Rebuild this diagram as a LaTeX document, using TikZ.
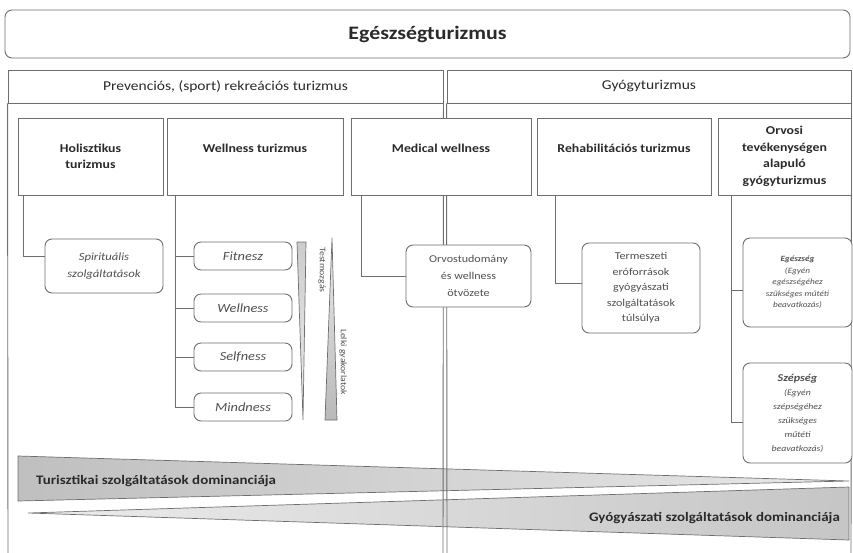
\documentclass[tikz,border=0pt]{standalone}
\usepackage{fontspec}
\setmainfont[FakeStretch=1.15]{Carlito}
\definecolor{linec}{HTML}{6E6E6E}
\definecolor{txt}{HTML}{2A2A2A}
\definecolor{soft}{HTML}{505050}
\begin{document}
\begin{tikzpicture}[x=1pt,y=-1pt,
  ln/.style={draw=linec,line width=0.9pt},
  titlebox/.style={ln,rounded corners=7pt,fill=white,minimum width=845pt,minimum height=48pt,inner sep=0pt,font=\bfseries\fontsize{19}{22}\selectfont,text=txt},
  headcell/.style={ln,fill=white,inner sep=0pt,minimum height=33pt,font=\fontsize{13.5}{15}\selectfont,text=txt},
  colbox/.style={ln,fill=white,inner sep=0pt,align=center,minimum height=77pt,font=\bfseries\fontsize{12}{16.5}\selectfont,text=txt},
  subbox/.style={ln,fill=white,rounded corners=7pt,inner sep=0pt,align=center,text=soft},
  wsub/.style={subbox,minimum width=98pt,minimum height=28pt,font=\itshape\fontsize{12.5}{14}\selectfont},
  conn/.style={ln},
  wedge/.style={draw=linec,line width=0.7pt},
  rotlab/.style={rotate=-90,inner sep=0pt,text=soft,font=\fontsize{8.5}{9}\selectfont},
  domtxt/.style={inner sep=0pt,text=txt,font=\bfseries\fontsize{13}{15}\selectfont}
]
\useasboundingbox (0,0) rectangle (853,552);

% bottom wedges
\shade[wedge,left color=gray!50,right color=gray!18] (18,456) -- (849,481) -- (18,501) -- cycle;
\shade[wedge,left color=gray!15,right color=gray!45] (28,513) -- (849,487) -- (849,540) -- cycle;

% title
\node[titlebox] (title) at (427.5,34) {Egészségturizmus};

% frames
\node[headcell,minimum width=435pt] (prevh) at (225.5,86.5) {Prevenciós, (sport) rekreációs turizmus};
\draw[ln] (prevh.south west) -- (8,560) -- (443,560) -- (prevh.south east);
\node[headcell,minimum width=404pt] (gyogyh) at (649,86.5) {Gyógyturizmus};
\draw[ln] (gyogyh.south west) -- (447,560) -- (851,560) -- (gyogyh.south east);

% wedge labels
\node[domtxt,anchor=west] (turtxt) at (36,481) {Turisztikai szolgáltatások dominanciája};
\node[domtxt,anchor=east] (gyotxt) at (840,518) {Gyógyászati szolgáltatások dominanciája};

% column boxes
\node[colbox,minimum width=145pt] (hol) at (90.5,156.5) {Holisztikus\\turizmus};
\node[colbox,minimum width=176pt] (well) at (255,156.5) {Wellness turizmus\\\mbox{}};
\node[colbox,minimum width=180pt] (med) at (441,156.5) {Medical wellness\\\mbox{}};
\node[colbox,minimum width=174pt] (rehab) at (624,156.5) {Rehabilitációs turizmus\\\mbox{}};
\node[colbox,minimum width=133pt] (orv) at (784.5,156.5) {Orvosi\\tevékenységen\\alapuló\\gyógyturizmus};

% sub boxes
\node[subbox,minimum width=118pt,minimum height=54pt,font=\itshape\fontsize{11}{17}\selectfont] (spir) at (104,266) {Spirituális\\szolgáltatások};
\node[wsub] (fit) at (243,256) {Fitnesz};
\node[wsub] (wel) at (243,308) {Wellness};
\node[wsub] (self) at (243,357) {Selfness};
\node[wsub] (mind) at (243,407) {Mindness};
\node[subbox,minimum width=125pt,minimum height=62pt,font=\fontsize{10.5}{17}\selectfont] (orvw) at (468.5,276) {Orvostudomány\\és wellness\\ötvözete};
\node[subbox,minimum width=118pt,minimum height=90pt,font=\fontsize{10.5}{15.5}\selectfont] (term) at (641,288) {Termeszeti\\eróforrások\\gyógyászati\\szolgáltatások\\túlsúlya};
\node[subbox,minimum width=109pt,minimum height=89pt,font=\itshape\fontsize{8}{11.5}\selectfont] (egesz) at (797.5,282.5) {\textbf{Egészség}\\(Egyén\\egészségéhez\\szükséges műtéti\\beavatkozás)};
\node[subbox,minimum width=109pt,minimum height=100pt,font=\itshape\fontsize{8.5}{14}\selectfont] (szep) at (797.5,413) {{\bfseries\fontsize{10.5}{14}\selectfont Szépség}\\(Egyén\\szépségéhez\\szükséges\\műtéti\\beavatkozás)};

% connectors
\draw[conn] ([xshift=6pt]hol.south west) |- ([yshift=10pt]spir.west);
\draw[conn] ([xshift=9pt]well.south west) |- (mind.west);
\draw[conn] (fit.west) -- ++(-18,0);
\draw[conn] (wel.west) -- ++(-18,0);
\draw[conn] (self.west) -- ++(-18,0);
\draw[conn] ([xshift=11pt]med.south west) |- (orvw.west);
\draw[conn] ([xshift=19pt]rehab.south west) |- ([yshift=5pt]term.west);
\draw[conn] ([xshift=14pt]orv.south west) |- ([yshift=-9pt]szep.west);
\draw[conn] ([yshift=-8pt]egesz.west) -- ++(-11,0);

% triangles
\shade[wedge,top color=gray!40,bottom color=gray!12] (297,242) -- (306,242) -- (303,420) -- cycle;
\shade[wedge,top color=gray!15,bottom color=gray!55] (332,238) -- (337,420) -- (325,420) -- cycle;
\node[rotlab] (testm) at (322,270) {Testmozgás};
\node[rotlab] (lelki) at (343,362) {Lelki gyakorlatok};
\end{tikzpicture}
\end{document}
